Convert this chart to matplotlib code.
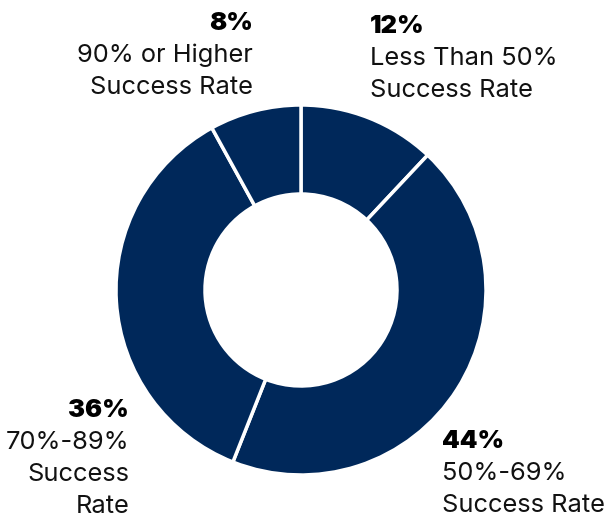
import matplotlib
matplotlib.use('Agg')
import matplotlib.pyplot as plt

plt.rcParams['font.family'] = ['Inter', 'DejaVu Sans']

# share of programs by success rate band
categories = ['Less Than 50%\nSuccess Rate', '50%-69%\nSuccess Rate',
              '70%-89%\nSuccess\nRate', '90% or Higher\nSuccess Rate']
values = [12, 44, 36, 8]
pct_labels = ['12%', '44%', '36%', '8%']

navy = '#00285a'
W, H = 612, 519

fig = plt.figure(figsize=(W / 100, H / 100), dpi=100)
ax = fig.add_axes([0, 0, 1, 1])

ax.pie(values, center=(301, H - 290), radius=185, startangle=90, counterclock=False,
       colors=[navy] * 4, wedgeprops=dict(width=89, edgecolor='white', linewidth=2.5))

# pie() resets the limits, so put the pixel frame back afterwards
ax.set_xlim(0, W)
ax.set_ylim(0, H)
ax.set_aspect('equal')
ax.axis('off')

# label anchors in pixel space: (x, baseline of first line, ha)
anchors = [(370, 33, 'left'), (442, 448, 'left'), (129, 417, 'right'), (253, 30, 'right')]
line_gap = 32
for (x, y0, ha), pct, cat in zip(anchors, pct_labels, categories):
    ax.text(x, H - y0, pct, ha=ha, va='baseline', fontsize=18.3,
            fontweight='black', color='black')
    for i, line in enumerate(cat.split('\n')):
        ax.text(x, H - (y0 + line_gap * (i + 1)), line, ha=ha, va='baseline',
                fontsize=18.3, color='#111111')

fig.savefig('out.png', dpi=100)
